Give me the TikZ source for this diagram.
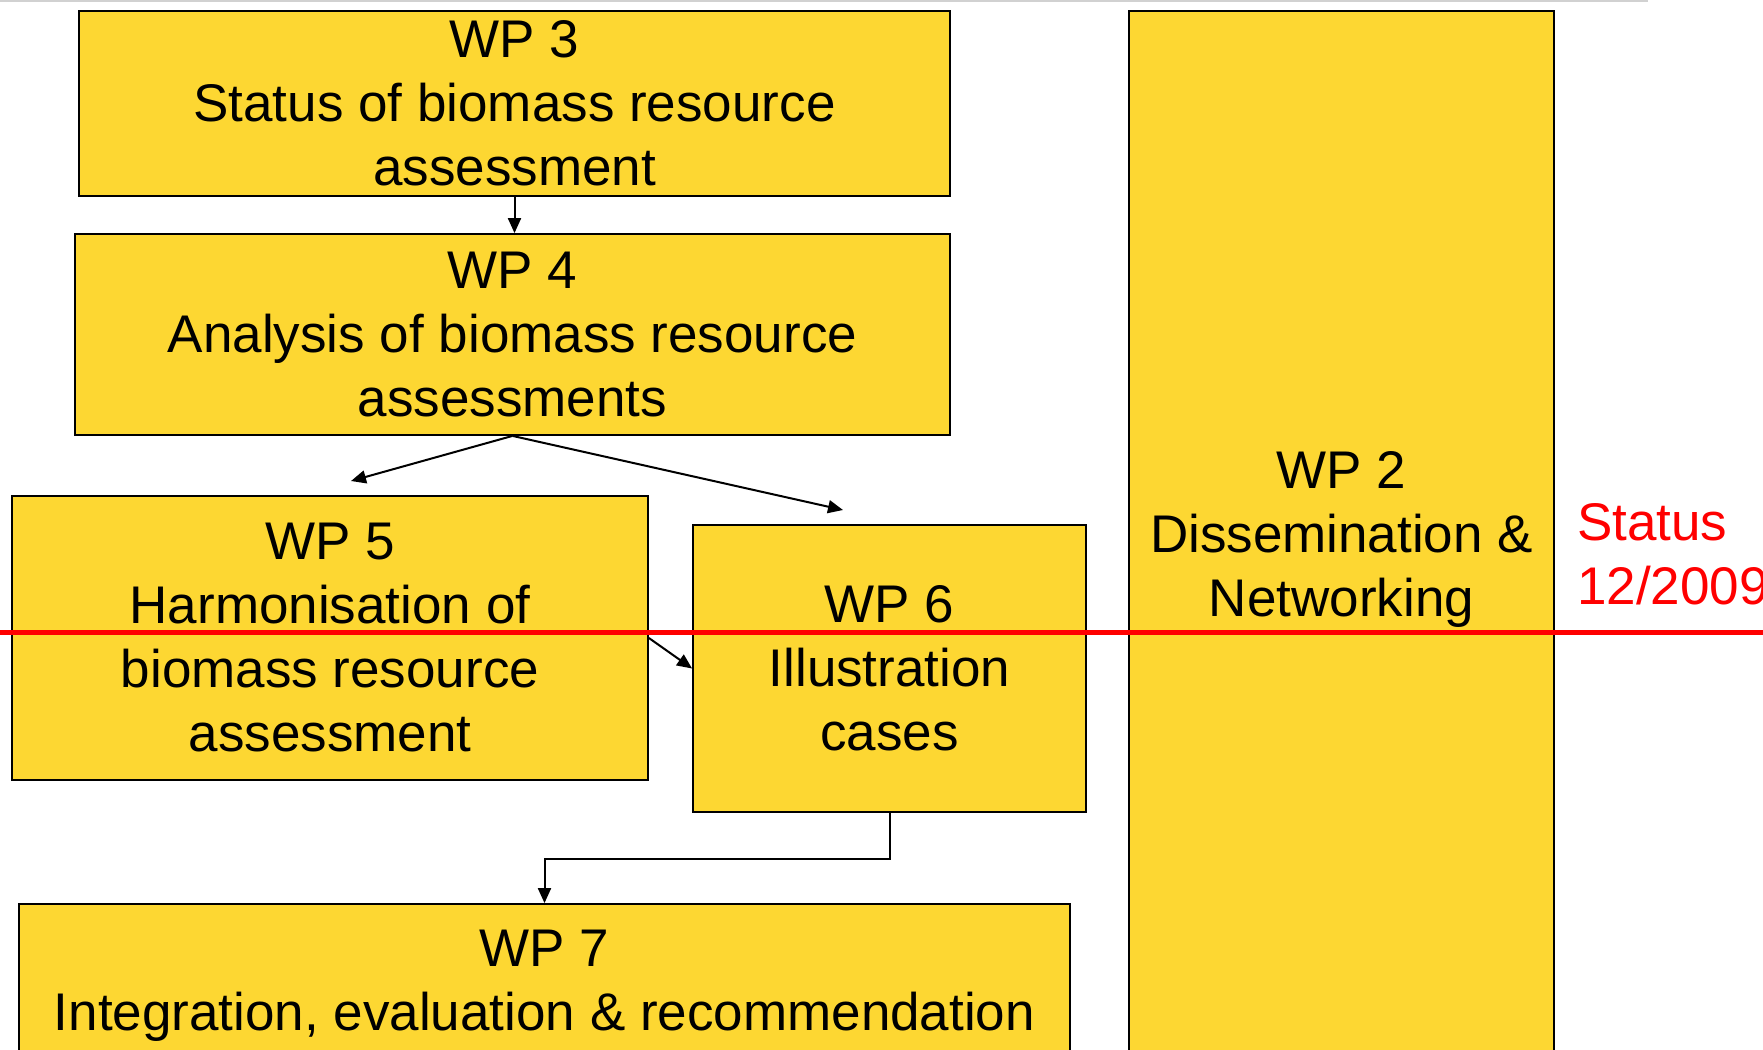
\documentclass[tikz,border=0pt]{standalone}
\usepackage{fontspec}
\setmainfont{Liberation Sans}
\usetikzlibrary{arrows.meta}
\definecolor{wpyellow}{RGB}{253,215,50}
\tikzset{
  wp/.style={draw, fill=wpyellow, line width=1.8pt, inner sep=0pt, align=center, font=\fontsize{53}{64}\selectfont},
  flow/.style={-{Triangle[length=15pt,width=13pt]}, line width=2pt},
}

\begin{document}
\begin{tikzpicture}[x=1pt,y=-1pt]
        \useasboundingbox (0,0) rectangle (1763,1049);
        \clip (0,0) rectangle (1763,1049);
        \draw [black!18, line width=2pt] (0,1) -- (1648,1);
        \node [wp, minimum width=871pt, minimum height=185pt] (wp3) at (514.5,103.5) {WP 3\\Status of biomass resource\\assessment};
        \node [wp, minimum width=875pt, minimum height=201pt] (wp4) at (512.5,334.5) {WP 4\\Analysis of biomass resource\\assessments};
        \node [wp, minimum width=636pt, minimum height=284pt] (wp5) at (330,638) {WP 5\\Harmonisation of\\biomass resource\\assessment};
        \node [wp, minimum width=393pt, minimum height=287pt] (wp6) at (889.5,668.5) {WP 6\\Illustration\\cases};
        \node [wp, minimum width=1051pt, minimum height=164pt] (wp7) at (544.5,986) {WP 7\\Integration, evaluation \& recommendation};
        \node [wp, minimum width=425pt, minimum height=1056pt] (wp2) at (1341.5,539) {WP 2\\Dissemination \&\\Networking};
        \coordinate (to5) at (351,481);
        \coordinate (to6) at (843,510);
        \draw [flow] (wp3.south) -- (wp3.south |- wp4.north);
        \draw [flow] (wp4.south) -- (to5);
        \draw [flow] (wp4.south) -- (to6);
        \draw [flow] (wp5.east) -- (wp6.west);
        \draw [flow] (wp6.south) -- ++(0,46) -| (wp7.north);
        % status line
        \draw [red, line width=5pt] (0,632) -- (1763,632);
        \node [anchor=north west, inner sep=0pt, align=left, text=red, font=\fontsize{53}{64}\selectfont] (status) at (1577,503) {Status\\12/2009};
\end{tikzpicture}
\end{document}
